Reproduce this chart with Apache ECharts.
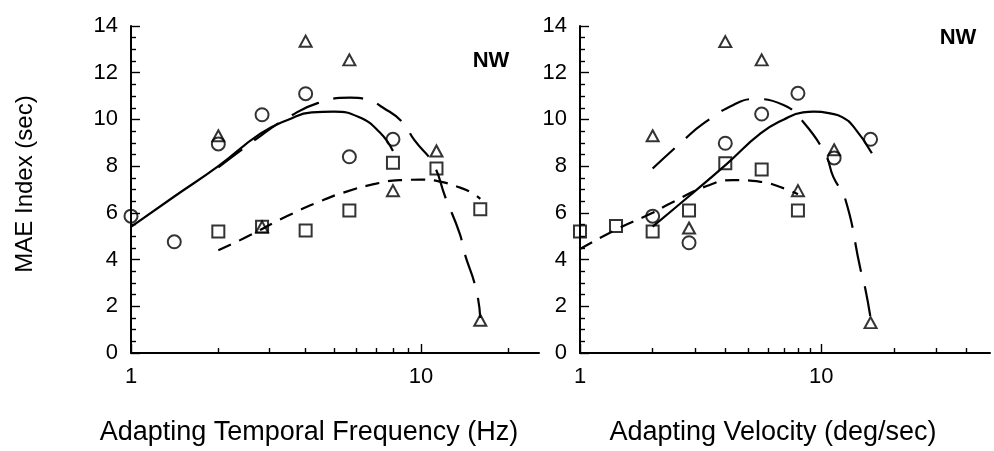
<!DOCTYPE html>
<html>
<head>
<meta charset="utf-8">
<script src="https://cdn.jsdelivr.net/npm/echarts@6/dist/echarts.min.js"></script>
<style>
  html, body { margin: 0; padding: 0; background: #fff; }
  #chart { width: 994px; height: 451px; }
</style>
</head>
<body>
<div id="chart"></div>
<script>
// MAE index vs adapting temporal frequency (left) and adapting velocity (right), observer NW

// ---- Left panel: temporal frequency (Hz) ----
const tfCircleX   = [1, 1.41, 2, 2.83, 4, 5.66, 8];
const tfCircleY   = [5.86, 4.76, 8.95, 10.2, 11.1, 8.4, 9.15];
const tfSquareX   = [2, 2.83, 4, 5.66, 8, 11.3, 16];
const tfSquareY   = [5.2, 5.4, 5.25, 6.1, 8.15, 7.9, 6.15];
const tfTriangleX = [2, 2.83, 4, 5.66, 8, 11.3, 16];
const tfTriangleY = [9.3, 5.4, 13.35, 12.55, 6.95, 8.65, 1.4];

// fitted curves (solid = circles, long dash = triangles, short dash = squares)
const tfSolidX = [1, 1.41, 2, 2.8, 3.5, 4.2, 5, 6.1, 7.2, 8];
const tfSolidY = [5.4, 6.7, 8.0, 9.4, 10.0, 10.3, 10.33, 10.1, 9.45, 8.65];
const tfLongX  = [2, 2.8, 3.5, 4.4, 5.7, 6.6, 7.4, 8.6, 9.5, 11, 12.1, 13.6, 14.1, 15.5, 16];
const tfLongY  = [7.95, 9.3, 10.1, 10.7, 10.93, 10.83, 10.5, 9.9, 9.1, 8.1, 6.7, 5.1, 4.3, 2.7, 1.5];
const tfShortX = [2, 2.44, 3.44, 4.5, 5.5, 7, 8.4, 10, 11.5, 13.5, 15, 16];
const tfShortY = [4.4, 4.9, 5.85, 6.5, 6.9, 7.25, 7.4, 7.42, 7.35, 7.1, 6.85, 6.6];

// ---- Right panel: velocity (deg/sec) ----
const velCircleX   = [2, 2.83, 4, 5.66, 8, 11.3, 16];
const velCircleY   = [5.86, 4.72, 8.98, 10.23, 11.12, 8.35, 9.15];
const velSquareX   = [1, 1.41, 2, 2.83, 4, 5.66, 8];
const velSquareY   = [5.2, 5.44, 5.2, 6.1, 8.12, 7.86, 6.1];
const velTriangleX = [2, 2.83, 4, 5.66, 8, 11.3, 16];
const velTriangleY = [9.3, 5.35, 13.33, 12.55, 6.95, 8.7, 1.3];

const velSolidX = [2, 2.82, 4.06, 5.6, 7, 8.4, 9.3, 11, 12.2, 13.6, 16.2];
const velSolidY = [5.41, 6.7, 8.1, 9.4, 10.0, 10.3, 10.33, 10.25, 10.1, 9.69, 8.55];
const velLongX  = [2, 2.68, 3.25, 4.32, 5.24, 6.97, 8.4, 10.4, 11.2, 12.6, 14.5, 15.2, 16];
const velLongY  = [7.9, 9.1, 9.83, 10.62, 10.87, 10.62, 9.9, 8.5, 7.55, 6.55, 3.63, 2.77, 1.5];
const velShortX = [1, 1.42, 2, 2.36, 3.35, 4.3, 5.6, 7, 8];
const velShortY = [4.45, 5.3, 6.0, 6.4, 7.15, 7.4, 7.33, 7.05, 6.8];

// ---- Axes ----
const xMajorTicks = [1, 10];
const tfMinorTicks  = [2, 3, 4, 5, 6, 7, 8, 9, 20];
const velMinorTicks = [2, 3, 4, 5, 6, 7, 8, 9, 20, 30, 40];

const FONT = '"Liberation Sans", Arial, Helvetica, sans-serif';
const zip = (xs, ys) => xs.map((x, i) => [x, ys[i]]);

const chart = echarts.init(document.getElementById('chart'), null, { renderer: 'canvas' });

const axisLine = { show: true, onZero: false, lineStyle: { color: '#000', width: 2 } };

function xAxes(gridIndex, max, minorTicks) {
  return [
    {
      type: 'log', logBase: 10, gridIndex, min: 1, max, position: 'bottom',
      axisLine,
      axisTick: { show: true, inside: true, length: 5, customValues: minorTicks, lineStyle: { color: '#000', width: 1.4 } },
      axisLabel: { show: true, customValues: xMajorTicks, color: '#000', fontSize: 22, fontFamily: FONT, margin: 13 },
      splitLine: { show: false }, minorTick: { show: false }
    },
    {
      type: 'log', logBase: 10, gridIndex, min: 1, max, position: 'bottom',
      axisLine: { show: false, onZero: false },
      axisTick: { show: true, inside: true, length: 9, customValues: xMajorTicks, lineStyle: { color: '#000', width: 1.4 } },
      axisLabel: { show: false },
      splitLine: { show: false }
    }
  ];
}

function yAxis(gridIndex) {
  return {
    type: 'value', gridIndex, min: 0, max: 14, interval: 2,
    axisLine,
    axisTick: { show: true, inside: true, length: 9, lineStyle: { color: '#000', width: 1.4 } },
    minorTick: { show: true, splitNumber: 4, length: 5, lineStyle: { color: '#000', width: 1.4 } },
    axisLabel: { color: '#000', fontSize: 22, fontFamily: FONT, margin: 13 },
    splitLine: { show: false }
  };
}

const markerStyle = { color: 'none', borderColor: '#000', borderWidth: 2 };

function scatter(xi, yi, data, symbol, size) {
  return {
    type: 'scatter', xAxisIndex: xi, yAxisIndex: yi, data, symbol, symbolSize: size,
    itemStyle: markerStyle, clip: false, silent: true, z: 5
  };
}

function curve(xi, yi, data, type) {
  return {
    type: 'line', xAxisIndex: xi, yAxisIndex: yi, data, smooth: 0.5, showSymbol: false,
    lineStyle: { color: '#000', width: 2.2, type }, silent: true, z: 3
  };
}

const option = {
  backgroundColor: '#fff',
  animation: false,
  grid: [
    { left: 131, top: 26, width: 408, height: 327 },
    { left: 580, top: 26, width: 410, height: 327 }
  ],
  xAxis: [...xAxes(0, 25.5, tfMinorTicks), ...xAxes(1, 50, velMinorTicks)],
  yAxis: [yAxis(0), yAxis(1)],
  series: [
    curve(0, 0, zip(tfSolidX, tfSolidY), 'solid'),
    curve(0, 0, zip(tfLongX, tfLongY), [30, 15]),
    curve(0, 0, zip(tfShortX, tfShortY), [14, 9]),
    scatter(0, 0, zip(tfCircleX, tfCircleY), 'circle', 13),
    scatter(0, 0, zip(tfSquareX, tfSquareY), 'rect', 12),
    scatter(0, 0, zip(tfTriangleX, tfTriangleY), 'triangle', [12, 11]),

    curve(2, 1, zip(velSolidX, velSolidY), 'solid'),
    curve(2, 1, zip(velLongX, velLongY), [30, 15]),
    curve(2, 1, zip(velShortX, velShortY), [14, 9]),
    scatter(2, 1, zip(velCircleX, velCircleY), 'circle', 13),
    scatter(2, 1, zip(velSquareX, velSquareY), 'rect', 12),
    scatter(2, 1, zip(velTriangleX, velTriangleY), 'triangle', [12, 11])
  ],
  graphic: [
    {
      type: 'text', x: 25, y: 184, rotation: Math.PI / 2,
      style: { text: 'MAE Index (sec)', font: '24px ' + FONT, fill: '#000', textAlign: 'center', textVerticalAlign: 'middle' }
    },
    {
      type: 'text', x: 309, y: 433,
      style: { text: 'Adapting Temporal Frequency (Hz)', font: '27px ' + FONT, fill: '#000', textAlign: 'center', textVerticalAlign: 'middle' }
    },
    {
      type: 'text', x: 773, y: 433,
      style: { text: 'Adapting Velocity (deg/sec)', font: '27px ' + FONT, fill: '#000', textAlign: 'center', textVerticalAlign: 'middle' }
    },
    {
      type: 'text', x: 491, y: 61,
      style: { text: 'NW', font: 'bold 22px ' + FONT, fill: '#000', textAlign: 'center', textVerticalAlign: 'middle' }
    },
    {
      type: 'text', x: 958, y: 38,
      style: { text: 'NW', font: 'bold 22px ' + FONT, fill: '#000', textAlign: 'center', textVerticalAlign: 'middle' }
    }
  ]
};

chart.setOption(option);
</script>
</body>
</html>
